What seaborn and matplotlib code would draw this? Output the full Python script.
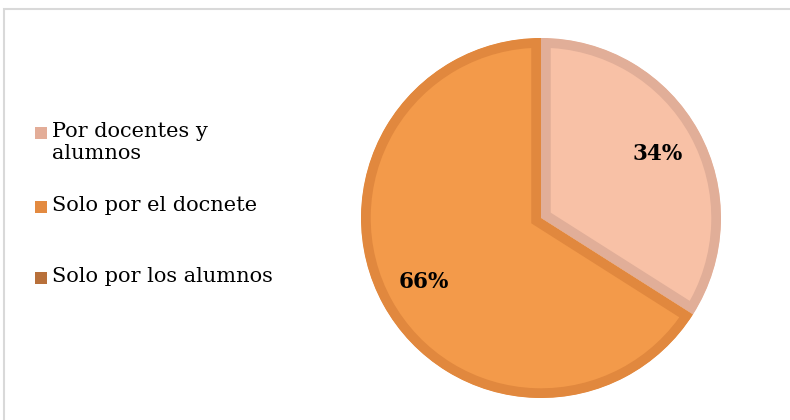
import matplotlib
matplotlib.use("Agg")
import matplotlib.pyplot as plt
from matplotlib.patches import Rectangle
import seaborn as sns

categories = ["Por docentes y\nalumnos", "Solo por el docnete", "Solo por los alumnos"]
shares = [34, 66, 0]
fill_colors = ["#F8C1A6", "#F39A4A", "#B8703A"]
edge_colors = ["#E1AE98", "#E1883E", "#A8622F"]
legend_colors = ["#E3AD98", "#E38A40", "#B8703A"]

W, H = 790, 420
sns.set_theme(style="white")
plt.rcParams["font.family"] = ["DejaVu Serif"]

fig = plt.figure(figsize=(W / 100, H / 100), dpi=100)
fig.patch.set_facecolor("white")

# light grey chart frame (cut off on the right and bottom)
fig.add_artist(Rectangle((4 / W, -0.05), 1.2, (H - 9) / H + 0.05, transform=fig.transFigure,
                         fill=False, edgecolor="#D9D9D9", linewidth=1.5))

cx, cy, r = 541, 218, 180
ax = fig.add_axes([(cx - r) / W, (H - cy - r) / H, 2 * r / W, 2 * r / H])

# zero-share slices are kept in the legend but not drawn
shown = [i for i, v in enumerate(shares) if v > 0]

wedges, _, autotexts = ax.pie(
    [shares[i] for i in shown],
    colors=[fill_colors[i] for i in shown],
    startangle=90,
    counterclock=False,
    radius=1,
    autopct=lambda p: f"{p:.0f}%",
    pctdistance=0.74,
    textprops=dict(fontsize=15.5, fontweight="bold", color="black"),
)
for wedge, i in zip(wedges, shown):
    wedge.set_edgecolor(edge_colors[i])
    wedge.set_linewidth(14)
    # keep only the inner half of the border, like the reference
    wedge.set_clip_on(True)
    wedge.set_clip_path(wedge.get_path(), wedge.get_transform())
ax.set_xlim(-1, 1)
ax.set_ylim(-1, 1)
ax.axis("off")

# legend entries
legend_y = [133, 207, 278]
for label, color, y in zip(categories, legend_colors, legend_y):
    fig.add_artist(Rectangle((35 / W, (H - y - 6) / H), 12 / W, 12 / H,
                             transform=fig.transFigure, facecolor=color, edgecolor="none"))
    fig.text(52 / W, (H - y + 11) / H, label, fontsize=15, va="top", ha="left",
             color="black", linespacing=1.2)

fig.savefig("out.png", dpi=100)
